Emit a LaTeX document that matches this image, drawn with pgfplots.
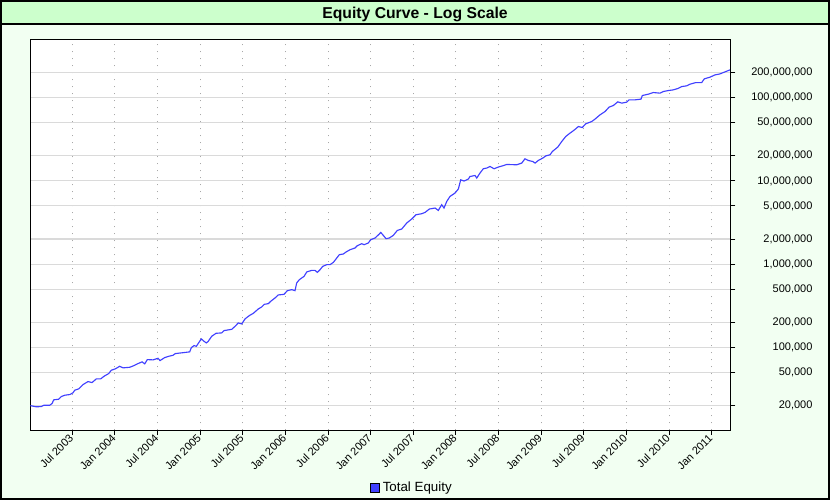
\documentclass[border=0pt]{standalone}
\usepackage{pgfplots}
\pgfplotsset{compat=1.18}
\usepackage{fontspec}
\setmainfont{Liberation Sans}
\definecolor{bggreen}{HTML}{F2FFF2}
\definecolor{titlegreen}{HTML}{CCFFCC}
\definecolor{curveblue}{HTML}{4040FF}
\definecolor{gridgray}{HTML}{DADADA}
\definecolor{dotgray}{HTML}{A8A8A8}
\begin{document}
\begin{tikzpicture}[x=0.75pt,y=0.75pt]
\useasboundingbox (0,0) rectangle (830,500);
\fill[bggreen] (0,0) rectangle (830,500);
\fill[titlegreen] (0,476) rectangle (830,500);
\draw[line width=1.5pt] (0,476) -- (830,476);
\node[font=\bfseries\fontsize{11.8}{14}\selectfont] at (415,485.5) {Equity Curve - Log Scale};
\begin{axis}[
  at={(22.725pt,52.125pt)}, anchor=south west,
  width=525.3pt, height=293.25pt, scale only axis,
  axis background/.style={fill=white},
  axis line style={line width=0.75pt, black},
  xmin=2003.007, xmax=2011.223,
  ymode=log, ymin=10000, ymax=500000000,
  xtick={2003.5,2004,2004.5,2005,2005.5,2006,2006.5,2007,2007.5,2008,2008.5,2009,2009.5,2010,2010.5,2011},
  xticklabels={Jul 2003,Jan 2004,Jul 2004,Jan 2005,Jul 2005,Jan 2006,Jul 2006,Jan 2007,Jul 2007,Jan 2008,Jul 2008,Jan 2009,Jul 2009,Jan 2010,Jul 2010,Jan 2011},
  ytick={20000,50000,100000,200000,500000,1000000,2000000,5000000,10000000,20000000,50000000,100000000,200000000},
  yticklabels={{20,000},{50,000},{100,000},{200,000},{500,000},{1,000,000},{2,000,000},{5,000,000},{10,000,000},{20,000,000},{50,000,000},{100,000,000},{200,000,000}},
  minor tick num=0,
  xtick pos=left, ytick pos=right, yticklabel pos=right,
  tick align=outside, major tick length=3.5pt,
  tick style={black, line width=0.75pt},
  xmajorgrids, ymajorgrids,
  x grid style={dotgray, line width=0.75pt, dash pattern=on 0.75pt off 4.5pt},
  y grid style={gridgray, line width=0.8pt},
  xticklabel style={rotate=45, anchor=east, inner sep=1pt, font=\fontsize{8.25}{10}\selectfont},
  yticklabel style={anchor=east, inner sep=0pt, xshift=58pt, font=\fontsize{8.25}{10}\selectfont},
  legend style={draw=none, fill=none, at={(0.545,-0.147)}, anchor=center, font=\fontsize{10}{12}\selectfont},
  legend image code/.code={\draw[fill=curveblue, draw=black, line width=0.6pt] (0pt,-3.6pt) rectangle (7.2pt,3.6pt);},
]
\addplot[curveblue, line width=0.85pt] table {
2003.007 19900
2003.078 19250
2003.136 19420
2003.168 20120
2003.235 20120
2003.262 21090
2003.282 23370
2003.340 23760
2003.371 25600
2003.411 26530
2003.470 27050
2003.508 28360
2003.528 30470
2003.575 31670
2003.626 35660
2003.684 38740
2003.731 37690
2003.782 41760
2003.833 41760
2003.872 44860
2003.927 48330
2003.957 52960
2004.004 55050
2004.056 59140
2004.095 56580
2004.173 57530
2004.224 60300
2004.271 63730
2004.318 66790
2004.349 63200
2004.380 71170
2004.447 70580
2004.505 73800
2004.529 69240
2004.584 75220
2004.631 77980
2004.681 80170
2004.708 84040
2004.779 85670
2004.877 88070
2004.896 99180
2004.928 104800
2004.955 102800
2004.994 118000
2005.013 126100
2005.045 118000
2005.072 112900
2005.092 117100
2005.135 135600
2005.186 147300
2005.253 148900
2005.280 158700
2005.370 164500
2005.409 178700
2005.447 196300
2005.487 190900
2005.526 219300
2005.576 240300
2005.623 256000
2005.682 289100
2005.722 305500
2005.752 328300
2005.799 334700
2005.827 356600
2005.878 391900
2005.916 425700
2005.983 432800
2006.022 479300
2006.074 492700
2006.112 479300
2006.132 593200
2006.163 649600
2006.218 711800
2006.250 804100
2006.308 840400
2006.347 840400
2006.374 795300
2006.406 856800
2006.437 938500
2006.484 983500
2006.523 983500
2006.562 1048000
2006.593 1151000
2006.632 1297000
2006.679 1322000
2006.711 1397000
2006.758 1489000
2006.816 1561000
2006.843 1663000
2006.895 1758000
2006.922 1710000
2006.972 1792000
2007.000 1963000
2007.051 2058000
2007.101 2298000
2007.118 2402000
2007.148 2211000
2007.180 2018000
2007.218 2058000
2007.265 2211000
2007.312 2538000
2007.364 2638000
2007.423 3115000
2007.481 3479000
2007.532 3919000
2007.599 4029000
2007.637 4176000
2007.688 4586000
2007.755 4715000
2007.793 4413000
2007.833 5166000
2007.860 4715000
2007.892 5657000
2007.930 6498000
2007.989 7138000
2008.028 7974000
2008.056 10310000
2008.095 9945000
2008.145 10510000
2008.165 11290000
2008.224 11610000
2008.244 10810000
2008.282 12410000
2008.321 13980000
2008.361 14250000
2008.400 14890000
2008.447 13980000
2008.497 14650000
2008.549 15180000
2008.596 15740000
2008.713 15610000
2008.772 16360000
2008.810 18430000
2008.849 17580000
2008.901 17100000
2008.928 16360000
2008.966 17580000
2009.018 18780000
2009.057 20020000
2009.104 20580000
2009.131 22540000
2009.194 25460000
2009.241 29720000
2009.288 34140000
2009.338 37500000
2009.365 39190000
2009.405 42220000
2009.436 45000000
2009.482 43770000
2009.522 48470000
2009.593 51670000
2009.631 55210000
2009.690 62170000
2009.749 68110000
2009.796 76910000
2009.846 80390000
2009.898 89060000
2009.945 85910000
2010.003 88310000
2010.030 94120000
2010.101 94120000
2010.171 95960000
2010.186 106000000
2010.257 110200000
2010.315 115200000
2010.394 113300000
2010.433 118400000
2010.491 121700000
2010.550 124100000
2010.601 128600000
2010.648 135900000
2010.707 138600000
2010.746 145200000
2010.813 151800000
2010.883 151800000
2010.913 168200000
2010.980 176300000
2011.039 187800000
2011.098 193100000
2011.156 204100000
2011.215 215700000
};
\legend{Total Equity}
\end{axis}
\draw[line width=1.5pt] (1,1) rectangle (829,499);
\end{tikzpicture}
\end{document}
